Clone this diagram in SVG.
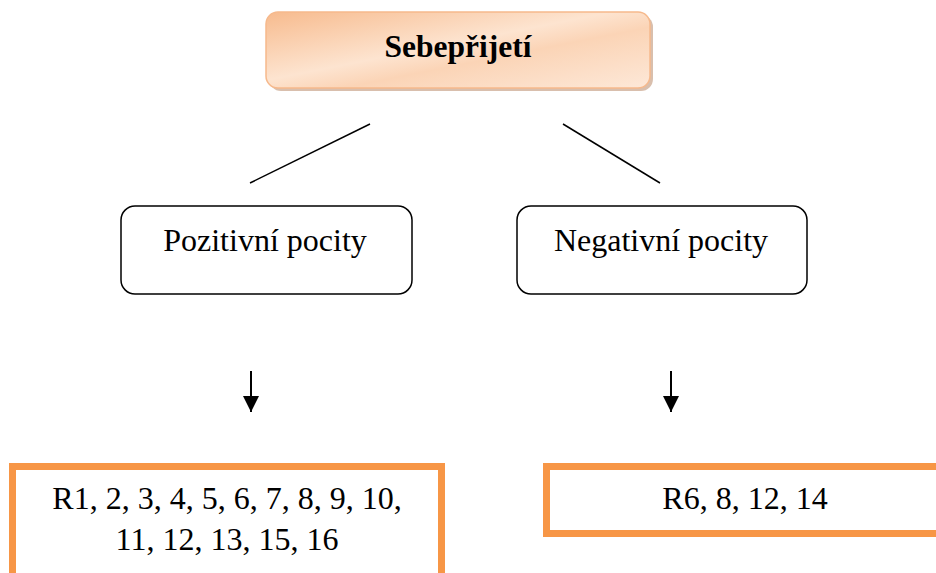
<svg xmlns="http://www.w3.org/2000/svg" width="936" height="573" viewBox="0 0 936 573">
<defs>
<linearGradient id="g" x1="0" y1="0" x2="1" y2="1" gradientUnits="objectBoundingBox">
<stop offset="0" stop-color="#f7bb8e"/>
<stop offset="0.45" stop-color="#fde4d0"/>
<stop offset="0.6" stop-color="#fbd4b6"/>
<stop offset="1" stop-color="#fde8d8"/>
</linearGradient>
<marker id="ah" viewBox="0 0 10 10" refX="10" refY="5" markerWidth="17" markerHeight="16" markerUnits="userSpaceOnUse" orient="auto">
<path d="M0,0 L10,5 L0,10 Z" fill="#000"/>
</marker>
<style>
.t{font-family:"Liberation Serif","Times New Roman",serif;fill:#000;text-anchor:middle}
.rb{fill:#fff;stroke:#000;stroke-width:1.5}
.ob{fill:#fff;stroke:#f79646;stroke-width:7}
</style>
</defs>
<g id="top">
<rect x="269" y="15" width="384" height="76" rx="12" fill="#c9a48a" opacity="0.7"/>
<rect x="266" y="12" width="384" height="76" rx="12" fill="url(#g)" stroke="#f6b98c" stroke-width="1.5"/>
<text class="t" x="458" y="57" font-size="31.5" font-weight="bold">Sebepřijetí</text>
</g>
<g id="pos">
<rect class="rb" x="121" y="206" width="291" height="88" rx="14"/>
<text class="t" x="265" y="251" font-size="32">Pozitivní pocity</text>
</g>
<g id="neg">
<rect class="rb" x="517" y="206" width="290" height="88" rx="14"/>
<text class="t" x="661" y="251" font-size="32">Negativní pocity</text>
</g>
<g id="posList">
<rect class="ob" x="12.5" y="466.5" width="429" height="130"/>
<text class="t" x="227" y="509" font-size="32">R1, 2, 3, 4, 5, 6, 7, 8, 9, 10,</text>
<text class="t" x="227" y="550" font-size="32">11, 12, 13, 15, 16</text>
</g>
<g id="negList">
<rect class="ob" x="546.5" y="466.5" width="420" height="67"/>
<text class="t" x="745" y="509" font-size="32">R6, 8, 12, 14</text>
</g>
<g id="connectors" stroke="#000" stroke-width="1.5" fill="none">
<line x1="370" y1="124" x2="250" y2="183"/>
<line x1="563" y1="124" x2="660" y2="183"/>
<line x1="251" y1="371" x2="251" y2="412" stroke-width="2" marker-end="url(#ah)"/>
<line x1="671" y1="371" x2="671" y2="412" stroke-width="2" marker-end="url(#ah)"/>
</g>
</svg>
